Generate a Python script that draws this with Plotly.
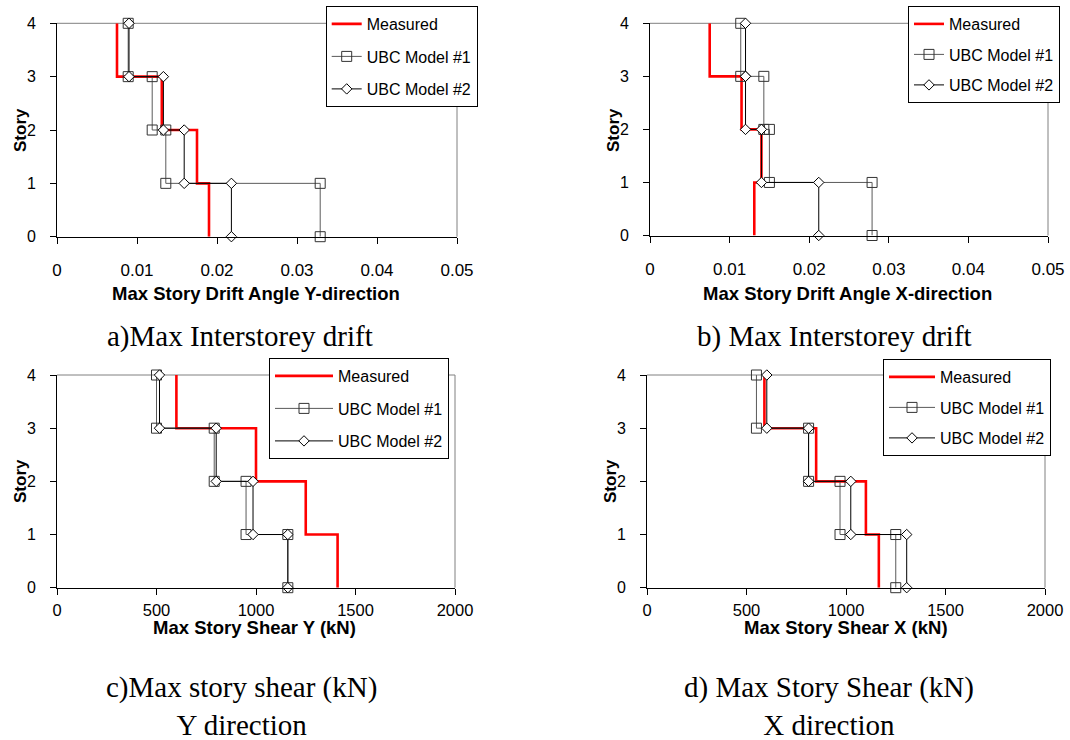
import plotly.graph_objects as go

# ---------------- data ----------------
story_levels = [4, 3, 2, 1, 0]          # storey boundaries, top to bottom
story_ticks = [0, 1, 2, 3, 4]

# values per storey segment (4-3, 3-2, 2-1, 1-0)
drift_y_measured = [0.0075, 0.0131, 0.0175, 0.0190]
drift_y_ubc1 = [0.0089, 0.0119, 0.0136, 0.0329]
drift_y_ubc2 = [0.0090, 0.0133, 0.0159, 0.0218]

drift_x_measured = [0.0075, 0.0115, 0.0140, 0.0131]
drift_x_ubc1 = [0.0114, 0.0143, 0.0150, 0.0279]
drift_x_ubc2 = [0.0120, 0.0120, 0.0140, 0.0212]

shear_y_measured = [600, 1000, 1250, 1410]
shear_y_ubc1 = [500, 790, 950, 1160]
shear_y_ubc2 = [515, 800, 985, 1160]

shear_x_measured = [590, 850, 1100, 1165]
shear_x_ubc1 = [550, 812, 970, 1250]
shear_x_ubc2 = [602, 812, 1024, 1305]

drift_ticks = [0, 0.01, 0.02, 0.03, 0.04, 0.05]
drift_tick_labels = ["0", "0.01", "0.02", "0.03", "0.04", "0.05"]
shear_ticks = [0, 500, 1000, 1500, 2000]
shear_tick_labels = ["0", "500", "1000", "1500", "2000"]

series_names = ["Measured", "UBC Model #1", "UBC Model #2"]

x_titles = ["Max Story Drift Angle Y-direction", "Max Story Drift Angle X-direction",
            "Max Story Shear Y (kN)", "Max Story Shear X (kN)"]
captions = ["a)Max Interstorey drift", "b) Max Interstorey drift",
            "c)Max story shear (kN)<br>Y direction", "d) Max Story Shear (kN)<br>X direction"]

# ---------------- layout helpers ----------------
W, H = 1070, 740
SANS = "Liberation Sans, Arial, sans-serif"
SERIF = "Liberation Serif, Times New Roman, serif"


def px(x):
    return x / W


def py(y):
    return 1 - y / H


def steps(vals):
    xs, ys = [], []
    for i, v in enumerate(vals):
        xs += [v, v]
        ys += [story_levels[i], story_levels[i + 1]]
    return xs, ys


panels = [
    dict(data=[drift_y_measured, drift_y_ubc1, drift_y_ubc2], rng=[0, 0.05],
         ticks=drift_ticks, labels=drift_tick_labels, tfs=17,
         xd=[57, 457], yd=[23.3, 236.7], legend=dict(x=325.7, y=6, gap=8.7, iw=30),
         title=(256, 293.5), story=(20, 130), cap=(240, 336.5), std=12),
    dict(data=[drift_x_measured, drift_x_ubc1, drift_x_ubc2], rng=[0, 0.05],
         ticks=drift_ticks, labels=drift_tick_labels, tfs=17,
         xd=[650, 1048], yd=[23.3, 235.5], legend=dict(x=908, y=6, gap=6.7, iw=30),
         title=(847, 293.5), story=(613, 130), cap=(834, 336.5), std=12),
    dict(data=[shear_y_measured, shear_y_ubc1, shear_y_ubc2], rng=[0, 2000],
         ticks=shear_ticks, labels=shear_tick_labels, tfs=16.5,
         xd=[57, 455], yd=[375, 587.7], legend=dict(x=269, y=358, gap=8.7, iw=58),
         title=(254, 627.5), story=(20, 481), cap=(241, 705.5), std=1),
    dict(data=[shear_x_measured, shear_x_ubc1, shear_x_ubc2], rng=[0, 2000],
         ticks=shear_ticks, labels=shear_tick_labels, tfs=16.5,
         xd=[647, 1045], yd=[375, 587.7], legend=dict(x=883, y=359, gap=6.7, iw=46),
         title=(846, 627.5), story=(610, 481), cap=(829, 705.5), std=1),
]

fig = go.Figure()
layout = dict(width=W, height=H, margin=dict(l=0, r=0, t=0, b=0, autoexpand=False),
              paper_bgcolor="white", plot_bgcolor="white",
              font=dict(family=SANS, color="black"), showlegend=True)
annotations = []
shapes = []

for i, p in enumerate(panels):
    n = "" if i == 0 else str(i + 1)
    xa, ya = "x" + n, "y" + n
    lg = "legend" + n
    meas, m1, m2 = p["data"]

    xs, ys = steps(meas)
    fig.add_trace(go.Scatter(x=xs, y=ys, xaxis=xa, yaxis=ya, mode="lines", name=series_names[0],
                             line=dict(color="#ff0000", width=2.6), legend=lg,
                             legendgroup=f"{i}a", cliponaxis=False))
    xs, ys = steps(m1)
    fig.add_trace(go.Scatter(x=xs, y=ys, xaxis=xa, yaxis=ya, mode="lines+markers", name=series_names[1],
                             line=dict(color="#5a5a5a", width=1),
                             marker=dict(symbol="square-open", size=10, color="#333333", line=dict(width=1)),
                             legend=lg, legendgroup=f"{i}b", cliponaxis=False))
    xs, ys = steps(m2)
    fig.add_trace(go.Scatter(x=xs, y=ys, xaxis=xa, yaxis=ya, mode="lines+markers", name=series_names[2],
                             line=dict(color="#000000", width=1),
                             marker=dict(symbol="diamond", size=8, color="white",
                                         line=dict(color="black", width=1)),
                             legend=lg, legendgroup=f"{i}c", cliponaxis=False))

    layout["xaxis" + n] = dict(domain=[px(p["xd"][0]), px(p["xd"][1])], range=p["rng"], anchor=ya,
                               tickvals=p["ticks"], ticktext=p["labels"], showline=True,
                               linecolor="black", linewidth=1, ticks="outside", ticklen=6,
                               tickcolor="black", showgrid=False, zeroline=False,
                               tickfont=dict(size=p["tfs"], family=SANS, color="black"),
                               ticklabelstandoff=p["std"], fixedrange=True)
    layout["yaxis" + n] = dict(domain=[py(p["yd"][1]), py(p["yd"][0])], range=[0, 4], anchor=xa,
                               tickvals=story_ticks, ticktext=[str(t) for t in story_ticks],
                               showline=True, linecolor="black", linewidth=1, ticks="outside",
                               ticklen=6, tickcolor="black", showgrid=False, zeroline=False,
                               tickfont=dict(size=16, family=SANS, color="black"),
                               ticklabelstandoff=11, fixedrange=True)
    L = p["legend"]
    layout[lg] = dict(x=px(L["x"]), y=py(L["y"]), xref="paper", yref="paper",
                      xanchor="left", yanchor="top", bgcolor="white",
                      bordercolor="black", borderwidth=1,
                      font=dict(size=16, family=SANS, color="black"),
                      tracegroupgap=L["gap"], itemwidth=L["iw"], traceorder="grouped")

    # grey top and right frame of the plot area
    shapes.append(dict(type="line", xref=xa + " domain", yref=ya + " domain", x0=0, x1=1, y0=1, y1=1,
                       line=dict(color="#808080", width=1), layer="below"))
    shapes.append(dict(type="line", xref=xa + " domain", yref=ya + " domain", x0=1, x1=1, y0=0, y1=1,
                       line=dict(color="#808080", width=1), layer="below"))

    tx, ty = p["title"]
    annotations.append(dict(x=px(tx), y=py(ty), xref="paper", yref="paper", text="<b>" + x_titles[i] + "</b>",
                            showarrow=False, xanchor="center", yanchor="middle",
                            font=dict(size=18.5, family=SANS, color="black")))
    sx, sy = p["story"]
    annotations.append(dict(x=px(sx), y=py(sy), xref="paper", yref="paper", text="<b>Story</b>",
                            showarrow=False, xanchor="center", yanchor="middle", textangle=-90,
                            font=dict(size=17, family=SANS, color="black")))
    cx, cy = p["cap"]
    annotations.append(dict(x=px(cx), y=py(cy), xref="paper", yref="paper", text=captions[i],
                            showarrow=False, xanchor="center", yanchor="middle",
                            font=dict(size=29, family=SERIF, color="black")))

layout["annotations"] = annotations
layout["shapes"] = shapes
fig.update_layout(**layout)
fig.write_html("out.html", config={"displayModeBar": False},
               post_script="document.body.style.margin='0';document.body.style.overflow='hidden';")
